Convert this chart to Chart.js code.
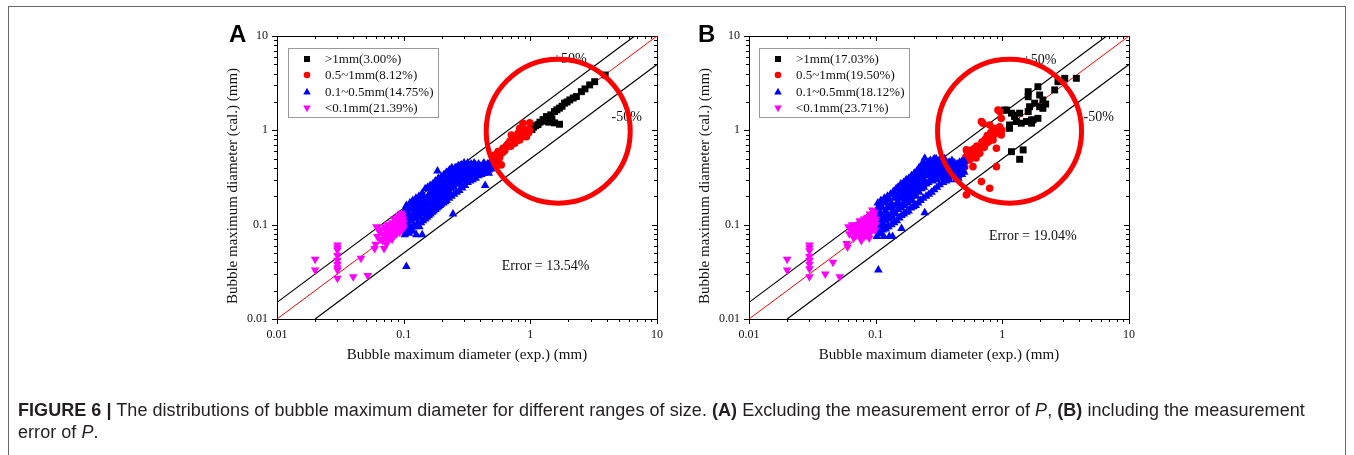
<!DOCTYPE html>
<html><head><meta charset="utf-8">
<script src="https://cdn.jsdelivr.net/npm/chart.js"></script>
<style>
html,body{margin:0;padding:0;background:#fff;}
body{width:1354px;height:455px;position:relative;overflow:hidden;}
#frame{position:absolute;left:8px;top:6px;width:1338px;height:470px;border:1px solid #6a6a6a;box-sizing:border-box;}
canvas{position:absolute;left:0;top:0;}
.panel{position:absolute;font-family:"Liberation Sans",Arial,sans-serif;font-weight:bold;font-size:24px;line-height:24px;color:#000;}
#cap{position:absolute;left:18px;top:399px;width:1320px;font-family:"Liberation Sans",Arial,sans-serif;font-size:18px;line-height:22px;letter-spacing:0.05px;color:#231f20;white-space:nowrap;}
</style></head><body>
<div id="frame"></div>
<canvas id="ca" width="1354" height="455"></canvas>
<canvas id="cb" width="1354" height="455"></canvas>
<div class="panel" style="left:229px;top:22px">A</div>
<div class="panel" style="left:698px;top:22px">B</div>
<div id="cap"><b>FIGURE 6 |</b> The distributions of bubble maximum diameter for different ranges of size. <b>(A)</b> Excluding the measurement error of <i>P</i>, <b>(B)</b> including the measurement<br>error of <i>P</i>.</div>
<script>
// ---------- axis ticks ----------
const TICK_VALUES = [0.01, 0.1, 1, 10];
const TICK_LABELS = ['0.01', '0.1', '1', '10'];
const X_TITLE = 'Bubble maximum diameter (exp.) (mm)';
const Y_TITLE = 'Bubble maximum diameter (cal.) (mm)';

// ---------- reference lines ----------
const LINE_EQUAL = [[0.01, 0.01], [10, 10]];
const LINE_PLUS50 = [[0.01, 0.015], [6.667, 10]];
const LINE_MINUS50 = [[0.02, 0.01], [10, 5]];

// ---------- panel A data ----------
const A_LEGEND = ['>1mm(3.00%)', '0.5~1mm(8.12%)', '0.1~0.5mm(14.75%)', '<0.1mm(21.39%)'];
const A_ERROR = 'Error = 13.54%';
const A_CIRCLE = [[1.66, 0.98]];
const A_GT1 = [[1.03,1.02],[1.06,1.08],[1.10,1.12],[1.15,1.15],[1.19,1.22],[1.26,1.30],[1.30,1.25],[1.34,1.40],[1.40,1.22],[1.45,1.46],[1.48,1.32],[1.55,1.58],[1.55,1.20],[1.62,1.65],[1.70,1.72],[1.70,1.16],[1.78,1.80],[1.86,1.94],[1.95,2.0],[2.05,2.10],[2.18,2.2],[2.31,2.28],[2.53,2.57],[2.7,2.75],[2.94,3.03],[3.22,3.28],[3.9,3.86]];
const A_05_1 = [[0.5,0.42],[0.505,0.45],[0.507,0.465],[0.515,0.44],[0.52,0.5],[0.523,0.548],[0.53,0.47],[0.54,0.52],[0.55,0.56],[0.556,0.594],[0.565,0.5],[0.573,0.525],[0.58,0.6],[0.59,0.43],[0.6,0.58],[0.608,0.645],[0.62,0.6],[0.63,0.62],[0.64,0.66],[0.647,0.682],[0.655,0.7],[0.667,0.716],[0.675,0.69],[0.687,0.759],[0.7,0.68],[0.708,0.893],[0.715,0.78],[0.73,0.76],[0.74,0.82],[0.753,0.729],[0.765,0.8],[0.776,0.824],[0.79,0.78],[0.8,0.931],[0.81,0.86],[0.824,0.79],[0.824,1.05],[0.85,0.893],[0.86,0.95],[0.875,1.19],[0.88,0.86],[0.89,0.93],[0.903,0.968],[0.92,1.02],[0.931,0.857],[0.95,1.0],[0.97,0.94],[0.989,1.01],[0.99,1.2]];
const A_01_05 = [[0.1,0.09],[0.1,0.105],[0.1,0.12],[0.1,0.135],[0.103,0.1],[0.103,0.14],[0.105,0.036],[0.105,0.085],[0.105,0.115],[0.108,0.095],[0.108,0.125],[0.108,0.15],[0.11,0.081],[0.11,0.1],[0.11,0.13],[0.113,0.11],[0.113,0.145],[0.116,0.09],[0.116,0.12],[0.116,0.155],[0.12,0.1],[0.12,0.13],[0.12,0.16],[0.123,0.115],[0.123,0.14],[0.126,0.078],[0.126,0.125],[0.126,0.17],[0.13,0.105],[0.13,0.135],[0.13,0.155],[0.134,0.12],[0.134,0.15],[0.134,0.18],[0.138,0.13],[0.138,0.165],[0.14,0.078],[0.14,0.215],[0.14,0.145],[0.145,0.14],[0.145,0.175],[0.145,0.195],[0.15,0.13],[0.15,0.155],[0.15,0.185],[0.155,0.15],[0.155,0.2],[0.155,0.17],[0.16,0.14],[0.16,0.165],[0.16,0.21],[0.165,0.16],[0.165,0.19],[0.165,0.23],[0.17,0.15],[0.17,0.175],[0.17,0.205],[0.175,0.17],[0.175,0.22],[0.175,0.25],[0.18,0.165],[0.18,0.19],[0.18,0.24],[0.185,0.37],[0.185,0.2],[0.185,0.27],[0.19,0.18],[0.19,0.215],[0.19,0.26],[0.195,0.2],[0.195,0.29],[0.195,0.235],[0.2,0.19],[0.2,0.22],[0.2,0.25],[0.2,0.3],[0.205,0.215],[0.205,0.27],[0.21,0.2],[0.21,0.24],[0.21,0.32],[0.215,0.23],[0.215,0.28],[0.22,0.21],[0.22,0.26],[0.22,0.34],[0.225,0.25],[0.225,0.3],[0.23,0.22],[0.23,0.27],[0.23,0.38],[0.235,0.24],[0.235,0.31],[0.235,0.35],[0.24,0.26],[0.24,0.29],[0.24,0.4],[0.245,0.13],[0.245,0.27],[0.245,0.33],[0.25,0.25],[0.25,0.3],[0.25,0.37],[0.26,0.27],[0.26,0.32],[0.26,0.4],[0.26,0.35],[0.27,0.28],[0.27,0.31],[0.27,0.36],[0.28,0.27],[0.28,0.33],[0.28,0.42],[0.28,0.38],[0.29,0.3],[0.29,0.35],[0.29,0.4],[0.3,0.29],[0.3,0.33],[0.3,0.37],[0.3,0.44],[0.31,0.31],[0.31,0.36],[0.31,0.41],[0.32,0.33],[0.32,0.39],[0.32,0.45],[0.33,0.32],[0.33,0.36],[0.33,0.42],[0.34,0.34],[0.34,0.38],[0.34,0.44],[0.35,0.33],[0.35,0.37],[0.35,0.41],[0.36,0.35],[0.36,0.4],[0.36,0.45],[0.37,0.34],[0.37,0.38],[0.37,0.43],[0.38,0.36],[0.38,0.41],[0.39,0.35],[0.39,0.39],[0.39,0.44],[0.4,0.37],[0.4,0.42],[0.41,0.36],[0.41,0.4],[0.42,0.38],[0.42,0.43],[0.43,0.35],[0.43,0.4],[0.43,0.45],[0.44,0.26],[0.44,0.39],[0.45,0.37],[0.45,0.42],[0.46,0.4],[0.46,0.44],[0.47,0.38],[0.47,0.43],[0.48,0.41],[0.48,0.46],[0.49,0.39],[0.49,0.44],[0.5,0.42],[0.5,0.48],
  [0.102,0.078],[0.107,0.082],[0.112,0.09],[0.118,0.085],[0.122,0.095],[0.128,0.1],[0.133,0.095],[0.137,0.105],[0.142,0.11],[0.148,0.115],[0.153,0.12],[0.158,0.125],[0.163,0.13],[0.168,0.135],[0.172,0.14],[0.178,0.145],[0.183,0.15],[0.188,0.155],[0.193,0.16],[0.198,0.165],[0.205,0.17],[0.212,0.175],[0.218,0.18],[0.228,0.19],[0.238,0.2],[0.25,0.21],[0.262,0.22],[0.275,0.23],[0.29,0.245],[0.305,0.26],[0.32,0.28],[0.335,0.29],[0.35,0.3],[0.37,0.31],[0.39,0.33],[0.41,0.34],[0.47,0.35],
  [0.105,0.16],[0.112,0.17],[0.118,0.18],[0.125,0.19],[0.132,0.2],[0.148,0.24],[0.155,0.25],[0.162,0.26],[0.17,0.27],[0.178,0.29],[0.188,0.31],[0.198,0.32],[0.208,0.34],[0.218,0.36],[0.228,0.37],[0.255,0.4],[0.27,0.42],[0.285,0.43],[0.3,0.45]];
const A_LT01 = [[0.02,0.043],[0.02,0.033],[0.03,0.061],[0.03,0.057],[0.03,0.054],[0.03,0.047],[0.03,0.042],[0.03,0.038],[0.03,0.035],[0.03,0.033],[0.03,0.027],[0.04,0.028],[0.046,0.044],[0.052,0.029],[0.059,0.056],[0.06,0.062],[0.061,0.095],[0.062,0.075],[0.064,0.085],[0.065,0.07],[0.066,0.09],[0.068,0.068],[0.069,0.078],[0.07,0.056],[0.07,0.08],[0.071,0.095],[0.072,0.075],[0.073,0.062],[0.073,0.085],[0.074,0.09],[0.075,0.068],[0.075,0.1],[0.076,0.085],[0.077,0.078],[0.078,0.095],[0.078,0.072],[0.079,0.092],[0.08,0.08],[0.08,0.1],[0.081,0.07],[0.081,0.105],[0.082,0.088],[0.083,0.075],[0.084,0.115],[0.085,0.095],[0.085,0.082],[0.086,0.09],[0.087,0.105],[0.088,0.09],[0.088,0.08],[0.089,0.115],[0.09,0.1],[0.09,0.085],[0.09,0.12],[0.091,0.11],[0.091,0.092],[0.092,0.095],[0.093,0.125],[0.093,0.083],[0.094,0.12],[0.095,0.1],[0.095,0.11],[0.096,0.132],[0.096,0.095],[0.097,0.09],[0.098,0.108],[0.098,0.125],[0.099,0.115],[0.099,0.097],[0.1,0.105],[0.1,0.092]];

// ---------- panel B data ----------
const B_LEGEND = ['>1mm(17.03%)', '0.5~1mm(19.50%)', '0.1~0.5mm(18.12%)', '<0.1mm(23.71%)'];
const B_ERROR = 'Error = 19.04%';
const B_CIRCLE = [[1.14, 0.98]];
const B_GT1 = [[1.04,1.64],[1.08,1.64],[1.14,1.05],[1.14,1.14],[1.18,1.52],[1.18,0.594],[1.25,1.45],[1.25,1.40],[1.29,1.24],[1.37,1.52],[1.37,0.493],[1.41,1.19],[1.46,0.62],[1.55,1.24],[1.6,2.57],[1.6,2.27],[1.6,1.58],[1.64,1.78],[1.70,1.29],[1.70,1.19],[1.75,1.29],[1.80,1.94],[1.91,2.9],[1.91,1.34],[1.97,2.37],[1.97,1.78],[2.09,2.10],[2.09,1.71],[2.2,1.9],[2.59,2.68],[2.75,3.28],[3.11,3.56],[3.84,3.56]];
const B_05_1 = [[0.505,0.41],[0.51,0.47],[0.515,0.52],[0.52,0.207],[0.52,0.62],[0.53,0.55],[0.54,0.5],[0.55,0.485],[0.56,0.53],[0.57,0.57],[0.58,0.62],[0.586,0.412],[0.59,0.6],[0.6,0.55],[0.605,0.645],[0.62,0.51],[0.63,0.68],[0.64,0.58],[0.663,0.57],[0.67,0.66],[0.684,0.286],[0.684,1.24],[0.69,0.75],[0.7,0.7],[0.703,1.19],[0.72,0.66],[0.73,0.8],[0.748,0.73],[0.75,0.8],[0.76,0.88],[0.771,0.824],[0.78,0.76],[0.795,0.243],[0.795,1.14],[0.8,0.87],[0.81,0.95],[0.82,0.931],[0.844,1.05],[0.844,0.79],[0.86,0.9],[0.87,1.0],[0.898,0.968],[0.898,0.412],[0.898,0.645],[0.91,1.05],[0.924,1.64],[0.953,1.09],[0.953,1.58],[0.97,0.95],[0.98,0.893],[0.98,1.34],[0.99,1.0]];
const B_01_05 = [[0.1,0.09],[0.1,0.11],[0.1,0.13],[0.102,0.1],[0.102,0.145],[0.105,0.033],[0.105,0.085],[0.105,0.12],[0.108,0.095],[0.108,0.135],[0.108,0.16],[0.11,0.08],[0.11,0.105],[0.11,0.125],[0.113,0.115],[0.113,0.15],[0.116,0.075],[0.116,0.1],[0.116,0.13],[0.12,0.11],[0.12,0.14],[0.12,0.17],[0.124,0.095],[0.124,0.125],[0.124,0.155],[0.128,0.075],[0.128,0.115],[0.128,0.185],[0.132,0.13],[0.132,0.15],[0.132,0.17],[0.136,0.075],[0.136,0.12],[0.136,0.16],[0.14,0.14],[0.14,0.19],[0.14,0.215],[0.145,0.13],[0.145,0.165],[0.145,0.24],[0.15,0.145],[0.15,0.175],[0.15,0.205],[0.155,0.16],[0.155,0.19],[0.155,0.23],[0.16,0.091],[0.16,0.15],[0.16,0.2],[0.165,0.17],[0.165,0.215],[0.165,0.25],[0.17,0.16],[0.17,0.19],[0.17,0.235],[0.175,0.18],[0.175,0.21],[0.175,0.27],[0.18,0.17],[0.18,0.2],[0.18,0.25],[0.185,0.19],[0.185,0.23],[0.185,0.29],[0.19,0.2],[0.19,0.26],[0.19,0.32],[0.195,0.18],[0.195,0.22],[0.195,0.28],[0.2,0.21],[0.2,0.25],[0.2,0.3],[0.2,0.34],[0.205,0.23],[0.205,0.27],[0.21,0.2],[0.21,0.26],[0.21,0.31],[0.21,0.36],[0.215,0.24],[0.215,0.29],[0.22,0.22],[0.22,0.27],[0.22,0.33],[0.22,0.4],[0.225,0.25],[0.225,0.3],[0.23,0.24],[0.23,0.29],[0.23,0.35],[0.23,0.43],[0.235,0.26],[0.235,0.32],[0.24,0.25],[0.24,0.3],[0.24,0.37],[0.24,0.45],[0.244,0.134],[0.244,0.505],[0.25,0.27],[0.25,0.33],[0.25,0.4],[0.26,0.28],[0.26,0.35],[0.26,0.43],[0.27,0.3],[0.27,0.37],[0.27,0.48],[0.28,0.29],[0.28,0.34],[0.28,0.41],[0.29,0.31],[0.29,0.38],[0.29,0.45],[0.3,0.3],[0.3,0.35],[0.3,0.42],[0.3,0.5],[0.31,0.33],[0.31,0.39],[0.31,0.47],[0.32,0.32],[0.32,0.37],[0.32,0.44],[0.33,0.34],[0.33,0.4],[0.33,0.48],[0.34,0.31],[0.34,0.36],[0.34,0.43],[0.35,0.35],[0.35,0.41],[0.35,0.5],[0.36,0.33],[0.36,0.38],[0.36,0.45],[0.37,0.36],[0.37,0.42],[0.38,0.34],[0.38,0.39],[0.38,0.46],[0.39,0.37],[0.39,0.43],[0.4,0.33],[0.4,0.4],[0.4,0.48],[0.41,0.36],[0.41,0.42],[0.42,0.38],[0.42,0.45],[0.43,0.3],[0.43,0.4],[0.44,0.37],[0.44,0.44],[0.45,0.33],[0.45,0.41],[0.46,0.39],[0.46,0.46],[0.47,0.36],[0.47,0.42],[0.48,0.4],[0.48,0.47],[0.49,0.38],[0.49,0.44],[0.5,0.36],[0.5,0.41],[0.5,0.47],
  [0.102,0.075],[0.108,0.08],[0.114,0.088],[0.12,0.09],[0.126,0.095],[0.133,0.1],[0.14,0.105],[0.147,0.11],[0.154,0.118],[0.16,0.125],[0.167,0.13],[0.175,0.135],[0.182,0.14],[0.19,0.15],[0.198,0.155],[0.207,0.16],[0.216,0.17],[0.226,0.18],[0.237,0.19],[0.25,0.2],[0.263,0.21],[0.276,0.22],[0.29,0.235],[0.305,0.25],[0.32,0.265],[0.34,0.28],[0.36,0.29],[0.38,0.3],[0.41,0.32],[0.45,0.31],[0.48,0.34],
  [0.104,0.17],[0.11,0.18],[0.117,0.19],[0.124,0.2],[0.131,0.21],[0.138,0.225],[0.15,0.25],[0.158,0.27],[0.166,0.28],[0.174,0.3],[0.183,0.31],[0.192,0.33],[0.202,0.35],[0.212,0.37],[0.222,0.38],[0.232,0.4],[0.25,0.42],[0.26,0.46],[0.28,0.47],[0.29,0.5],[0.32,0.49]];
const B_LT01 = [[0.02,0.043],[0.02,0.033],[0.03,0.061],[0.03,0.057],[0.03,0.053],[0.03,0.046],[0.03,0.042],[0.03,0.038],[0.03,0.034],[0.03,0.028],[0.04,0.03],[0.046,0.04],[0.052,0.028],[0.059,0.063],[0.06,0.058],[0.061,0.095],[0.062,0.08],[0.064,0.09],[0.065,0.1],[0.066,0.085],[0.067,0.072],[0.068,0.095],[0.07,0.09],[0.07,0.078],[0.071,0.1],[0.072,0.085],[0.073,0.08],[0.074,0.095],[0.075,0.075],[0.075,0.11],[0.076,0.105],[0.077,0.068],[0.077,0.085],[0.078,0.09],[0.079,0.08],[0.079,0.095],[0.08,0.1],[0.08,0.085],[0.081,0.075],[0.081,0.115],[0.082,0.11],[0.083,0.092],[0.084,0.077],[0.084,0.105],[0.085,0.1],[0.086,0.12],[0.086,0.095],[0.087,0.088],[0.088,0.105],[0.088,0.082],[0.089,0.072],[0.09,0.095],[0.09,0.13],[0.09,0.115],[0.091,0.082],[0.091,0.1],[0.092,0.11],[0.093,0.1],[0.093,0.088],[0.094,0.143],[0.095,0.09],[0.095,0.125],[0.096,0.115],[0.096,0.105],[0.097,0.125],[0.098,0.1],[0.098,0.135],[0.099,0.088],[0.099,0.108],[0.1,0.1],[0.1,0.115]];

// annotation anchors (data coordinates)
const A_PLUS_AT = [2.05, 5.7], A_MINUS_AT = [5.77, 1.385], A_ERR_AT = [1.32, 0.0365];
const B_PLUS_AT = [1.97, 5.57], B_MINUS_AT = [5.77, 1.385], B_ERR_AT = [1.74, 0.0758];

const SERIF = '"Liberation Serif","Times New Roman",serif';
const COLORS = ['#000000', '#ff0000', '#0000ff', '#ff00ff'];
const pts = a => a.map(p => ({x: p[0], y: p[1]}));

function legendMarker(ctx, i, x, y) {
  ctx.fillStyle = COLORS[i];
  ctx.beginPath();
  if (i === 0) { ctx.rect(x - 3, y - 3, 6, 6); }
  else if (i === 1) { ctx.arc(x, y, 3.3, 0, Math.PI * 2); }
  else if (i === 2) { ctx.moveTo(x, y - 4.2); ctx.lineTo(x + 3.8, y + 2.4); ctx.lineTo(x - 3.8, y + 2.4); ctx.closePath(); }
  else { ctx.moveTo(x, y + 4.2); ctx.lineTo(x + 3.8, y - 2.4); ctx.lineTo(x - 3.8, y - 2.4); ctx.closePath(); }
  ctx.fill();
}

function makePanel(id, d) {
  const decorPlugin = {
    id: 'decor' + id,
    beforeDatasetsDraw(chart) {
      const ctx = chart.ctx, a = chart.chartArea, xs = chart.scales.x, ys = chart.scales.y;
      ctx.save();
      ctx.strokeStyle = '#000'; ctx.lineWidth = 1;
      const vals = [];
      for (let e = -2; e <= 0; e++) for (let m = 1; m <= 9; m++) vals.push({v: m * Math.pow(10, e), major: m === 1});
      vals.push({v: 10, major: true});
      ctx.beginPath();
      vals.forEach(t => {
        const L = t.major ? 5 : 3;
        const px = Math.round(xs.getPixelForValue(t.v)) + 0.5;
        const py = Math.round(ys.getPixelForValue(t.v)) + 0.5;
        ctx.moveTo(px, a.bottom); ctx.lineTo(px, a.bottom + L);
        ctx.moveTo(px, a.top); ctx.lineTo(px, a.top + L);
        ctx.moveTo(a.left, py); ctx.lineTo(a.left - L, py);
        ctx.moveTo(a.right, py); ctx.lineTo(a.right - L, py);
      });
      ctx.stroke();
      ctx.strokeRect(Math.round(a.left) + 0.5, Math.round(a.top) + 0.5, Math.round(a.right - a.left), Math.round(a.bottom - a.top));
      ctx.fillStyle = '#111';
      ctx.font = '14px ' + SERIF;
      ctx.textAlign = 'center'; ctx.textBaseline = 'middle';
      ctx.fillText('+50%', xs.getPixelForValue(d.plusAt[0]), ys.getPixelForValue(d.plusAt[1]));
      ctx.fillText('-50%', xs.getPixelForValue(d.minusAt[0]), ys.getPixelForValue(d.minusAt[1]));
      ctx.fillText(d.error, xs.getPixelForValue(d.errAt[0]), ys.getPixelForValue(d.errAt[1]));
      ctx.restore();
    },
    afterDatasetsDraw(chart) {
      const ctx = chart.ctx, a = chart.chartArea;
      ctx.save();
      const bx = a.left + d.legendDx, by = a.top + 12, bw = 150, bh = 69;
      ctx.fillStyle = '#fff'; ctx.fillRect(bx, by, bw, bh);
      ctx.strokeStyle = '#9a9a9a'; ctx.lineWidth = 1;
      ctx.strokeRect(Math.round(bx) + 0.5, Math.round(by) + 0.5, bw, bh);
      const rows = [11, 27, 44, 60];
      ctx.font = '13px ' + SERIF; ctx.textAlign = 'left'; ctx.textBaseline = 'middle';
      d.legend.forEach((t, i) => {
        legendMarker(ctx, i, bx + 19, by + rows[i]);
        ctx.fillStyle = '#111';
        ctx.fillText(t, bx + 37, by + rows[i] + 1);
      });
      ctx.fillStyle = '#111'; ctx.font = '15px ' + SERIF;
      ctx.textAlign = 'center'; ctx.textBaseline = 'middle';
      ctx.fillText(X_TITLE, (a.left + a.right) / 2, 355);
      ctx.translate(a.left - 44, 186);
      ctx.rotate(-Math.PI / 2);
      ctx.fillText(Y_TITLE, 0, 0);
      ctx.restore();
    }
  };
  const pointSet = (data, style, rot, r, color) => ({
    data: pts(data), pointStyle: style, pointRotation: rot, pointRadius: r,
    pointBackgroundColor: color, pointBorderWidth: 0, pointBorderColor: color, showLine: false
  });
  const lineSet = (data, color, w) => ({
    data: pts(data), showLine: true, borderColor: color, borderWidth: w, pointRadius: 0, fill: false
  });
  const chart = new Chart(document.getElementById(id), {
    type: 'scatter',
    data: { datasets: [
      { data: pts(d.circle), pointStyle: 'circle', pointRadius: 72, pointBorderWidth: 5,
        pointBorderColor: '#ff0000', pointBackgroundColor: 'rgba(0,0,0,0)', clip: false },
      pointSet(d.lt01, 'triangle', 180, 5, '#ff00ff'),
      pointSet(d.b01, 'triangle', 0, 5, '#0000ff'),
      pointSet(d.b05, 'circle', 0, 3.8, '#ff0000'),
      pointSet(d.gt1, 'rect', 0, 4.9, '#000000'),
      lineSet(LINE_EQUAL, '#ff0000', 1),
      lineSet(LINE_PLUS50, '#000000', 1.2),
      lineSet(LINE_MINUS50, '#000000', 1.2)
    ]},
    options: {
      responsive: false, animation: false, events: [],
      layout: { autoPadding: false, padding: { left: d.left - 60, right: 1354 - d.right, top: 36, bottom: 455 - 319 - 40 } },
      plugins: { legend: { display: false }, tooltip: { enabled: false }, title: { display: false } },
      scales: {
        x: {
          type: 'logarithmic', position: 'bottom', min: 0.01, max: 10,
          afterBuildTicks: s => { s.ticks = TICK_VALUES.map(v => ({value: v})); },
          afterFit: s => { s.height = 40; },
          grid: { display: false, drawTicks: false }, border: { display: false },
          ticks: { padding: 9, autoSkip: false, maxRotation: 0, color: '#111',
                   font: { family: SERIF, size: 12 },
                   callback: v => TICK_LABELS[TICK_VALUES.indexOf(v)] ?? '' }
        },
        y: {
          type: 'logarithmic', position: 'left', min: 0.01, max: 10,
          afterBuildTicks: s => { s.ticks = TICK_VALUES.map(v => ({value: v})); },
          afterFit: s => { s.width = 60; },
          grid: { display: false, drawTicks: false }, border: { display: false },
          ticks: { padding: 9, autoSkip: false, color: '#111',
                   font: { family: SERIF, size: 12 },
                   callback: v => TICK_LABELS[TICK_VALUES.indexOf(v)] ?? '' }
        }
      }
    },
    plugins: [decorPlugin]
  });
  const target = {left: d.left, right: d.right, top: 36, bottom: 319};
  for (let k = 0; k < 4; k++) {
    const a = chart.chartArea, p = chart.options.layout.padding;
    const dt = target.top - a.top, db = a.bottom - target.bottom, dl = target.left - a.left, dr = a.right - target.right;
    if (Math.abs(dt) + Math.abs(db) + Math.abs(dl) + Math.abs(dr) < 0.5) break;
    p.top += dt; p.bottom += db; p.left += dl; p.right += dr;
    chart.update();
  }
  return chart;
}

makePanel('ca', { left: 277, right: 657, circle: A_CIRCLE, gt1: A_GT1, b05: A_05_1, b01: A_01_05, lt01: A_LT01,
  legend: A_LEGEND, error: A_ERROR, plusAt: A_PLUS_AT, minusAt: A_MINUS_AT, errAt: A_ERR_AT, legendDx: 11 });
makePanel('cb', { left: 749, right: 1129, circle: B_CIRCLE, gt1: B_GT1, b05: B_05_1, b01: B_01_05, lt01: B_LT01,
  legend: B_LEGEND, error: B_ERROR, plusAt: B_PLUS_AT, minusAt: B_MINUS_AT, errAt: B_ERR_AT, legendDx: 10 });
</script>
</body></html>
